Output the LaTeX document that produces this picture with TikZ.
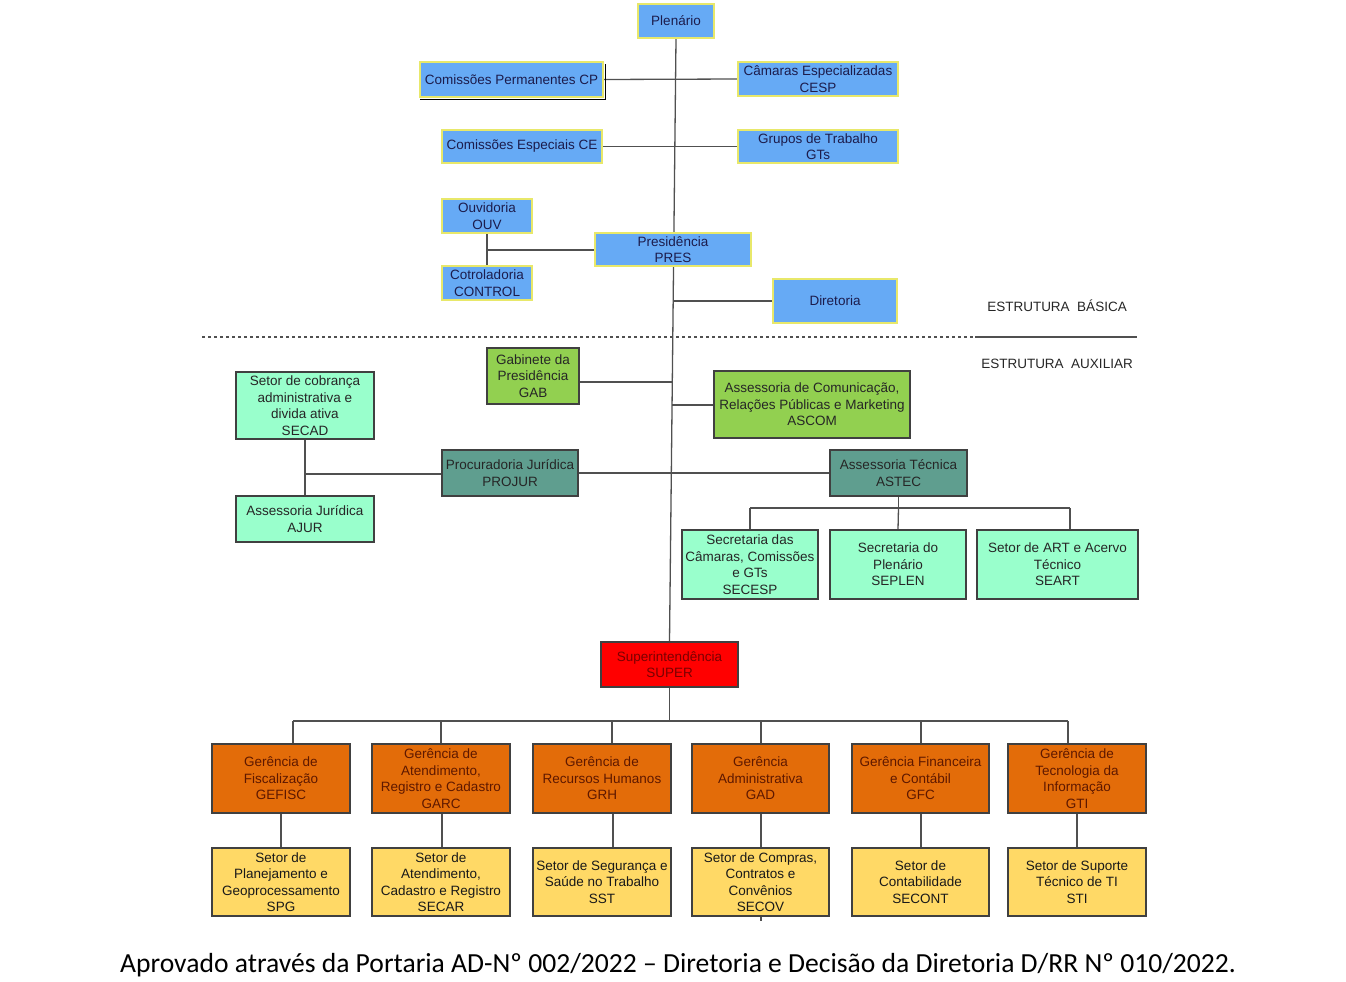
\documentclass[tikz,border=0pt]{standalone}
\usepackage{fontspec}
\setmainfont{Liberation Sans}
\newfontfamily\capfont{Carlito}
\usetikzlibrary{calc,backgrounds}
\definecolor{bluefill}{HTML}{66AAF5}
\definecolor{yelborder}{HTML}{E8E86A}
\definecolor{navytext}{HTML}{1C1C4C}
\definecolor{greenfill}{HTML}{92D050}
\definecolor{mintfill}{HTML}{99FFCC}
\definecolor{tealfill}{HTML}{5F9E8F}
\definecolor{orangefill}{HTML}{E36C09}
\definecolor{orangetext}{HTML}{5E1800}
\definecolor{lightorange}{HTML}{FFD966}
\definecolor{redtext}{HTML}{7A0000}
\definecolor{boxborder}{HTML}{404040}
\definecolor{linegray}{HTML}{505050}
\tikzset{
  x=1pt, y=-1pt,
  basebox/.style={rectangle, inner sep=0pt, align=center,
    font=\fontsize{13.5}{16.5}\selectfont},
  bluebox/.style={basebox, fill=bluefill, draw=yelborder, line width=1.3pt, text=navytext},
  greenbox/.style={basebox, fill=greenfill, draw=boxborder, line width=1.1pt, text=black!85},
  mintbox/.style={basebox, fill=mintfill, draw=boxborder, line width=1.1pt, text=black!85},
  tealbox/.style={basebox, fill=tealfill, draw=boxborder, line width=1.1pt, text=black!85},
  redbox/.style={basebox, fill=red, draw=boxborder, line width=1.1pt, text=redtext},
  gerbox/.style={basebox, fill=orangefill, draw=boxborder, line width=1.1pt, text=orangetext},
  setbox/.style={basebox, fill=lightorange, draw=boxborder, line width=1.1pt, text=black!90},
  conn/.style={draw=linegray, line width=1.3pt},
  sizebox/.style 2 args={minimum width=#1pt, minimum height=#2pt},
  estlabel/.style={font=\fontsize{13.5}{16}\selectfont, text=black!85, inner sep=0pt},
}
\begin{document}
\begin{tikzpicture}
\useasboundingbox (0,0) rectangle (1346,982);

% ---- Estrutura basica
\node[bluebox, sizebox={76}{34}] (plen) at (676,21) {Plenário};
\node[bluebox, sizebox={183}{35}] (cp) at (511.5,79.5) {Comissões Permanentes CP};
\node[bluebox, sizebox={160}{34}] (cesp) at (818,79) {Câmaras Especializadas\\CESP};
\node[bluebox, sizebox={160}{33}] (ce) at (522,146.5) {Comissões Especiais CE};
\node[bluebox, sizebox={160}{33}] (gts) at (818,146.5) {Grupos de Trabalho\\GTs};
\node[bluebox, sizebox={90}{34}] (ouv) at (487,216) {Ouvidoria\\OUV};
\node[bluebox, sizebox={90}{34}] (control) at (487,283) {Cotroladoria\\CONTROL};
\node[bluebox, sizebox={156}{33}] (pres) at (673,249.5) {Presidência\\PRES};
\node[bluebox, sizebox={124}{44}] (dir) at (835,301) {Diretoria};

\node[estlabel] (basica) at (1057,306) {ESTRUTURA\ \ BÁSICA};
\node[estlabel] (auxiliar) at (1057,364) {ESTRUTURA\ \ AUXILIAR};
\coordinate (dl) at (202,337);
\coordinate (dm) at (975,337);
\coordinate (dr) at (1137,337);
\draw[linegray, line width=1.1pt, dash pattern=on 3pt off 3pt] (dl) -- (dm);
\draw[linegray, line width=1.1pt] (dm) -- (dr);

% ---- Estrutura auxiliar
\node[greenbox, sizebox={92}{56}] (gab) at (533,376) {Gabinete da\\Presidência\\GAB};
\node[greenbox, sizebox={196}{67}] (ascom) at (812,404.5) {Assessoria de Comunicação,\\Relações Públicas e Marketing\\ASCOM};
\node[mintbox, sizebox={138}{67}] (secad) at (305,405.5) {Setor de cobrança\\administrativa e\\divida ativa\\SECAD};
\node[mintbox, sizebox={138}{46}] (ajur) at (305,519) {Assessoria Jurídica\\AJUR};
\node[tealbox, sizebox={136}{46}] (projur) at (510,473) {Procuradoria Jurídica\\PROJUR};
\node[tealbox, sizebox={137}{46}] (astec) at (898.5,473) {Assessoria Técnica\\ASTEC};
\node[mintbox, sizebox={136}{69}] (secesp) at (750,564.5) {Secretaria das\\Câmaras, Comissões\\e GTs\\SECESP};
\node[mintbox, sizebox={136}{69}] (seplen) at (898,564.5) {Secretaria do\\Plenário\\SEPLEN};
\node[mintbox, sizebox={161}{69}] (seart) at (1057.5,564.5) {Setor de ART e Acervo\\Técnico\\SEART};

\node[redbox, sizebox={137}{45}] (super) at (669.5,664.5) {Superintendência\\SUPER};

% ---- Gerencias
\node[gerbox, sizebox={138}{69}] (gefisc) at (281,778.5) {Gerência de\\Fiscalização\\GEFISC};
\node[gerbox, sizebox={138}{69}] (garc) at (441,778.5) {Gerência de\\Atendimento,\\Registro e Cadastro\\GARC};
\node[gerbox, sizebox={138}{69}] (grh) at (602,778.5) {Gerência de\\Recursos Humanos\\GRH};
\node[gerbox, sizebox={137}{69}] (gad) at (760.5,778.5) {Gerência\\Administrativa\\GAD};
\node[gerbox, sizebox={137}{69}] (gfc) at (920.5,778.5) {Gerência Financeira\\e Contábil\\GFC};
\node[gerbox, sizebox={138}{69}] (gti) at (1077,778.5) {Gerência de\\Tecnologia da\\Informação\\GTI};

\node[setbox, sizebox={138}{68}] (spg) at (281,882) {Setor de\\Planejamento e\\Geoprocessamento\\SPG};
\node[setbox, sizebox={138}{68}] (secar) at (441,882) {Setor de\\Atendimento,\\Cadastro e Registro\\SECAR};
\node[setbox, sizebox={138}{68}] (sst) at (602,882) {Setor de Segurança e\\Saúde no Trabalho\\SST};
\node[setbox, sizebox={137}{68}] (secov) at (760.5,882) {Setor de Compras,\\Contratos e\\Convênios\\SECOV};
\node[setbox, sizebox={137}{68}] (secont) at (920.5,882) {Setor de\\Contabilidade\\SECONT};
\node[setbox, sizebox={138}{68}] (sti) at (1077,882) {Setor de Suporte\\Técnico de TI\\STI};

\node[font=\capfont\fontsize{27.6}{32}\selectfont, inner sep=0pt] (caption) at (678,965)
  {Aprovado através da Portaria AD-Nº 002/2022 – Diretoria e Decisão da Diretoria D/RR Nº 010/2022.};

% ---- connectors (behind boxes)
\begin{pgfonlayer}{background}
  % main spine
  \draw[conn] (plen.south) -- (super.north);
  \coordinate (mgab) at ($(plen.south)!{(382-38)/604}!(super.north)$);
  \coordinate (mascom) at ($(plen.south)!{(405-38)/604}!(super.north)$);
  \coordinate (mdir) at ($(plen.south)!{(301-38)/604}!(super.north)$);
  \draw[conn] (cp.east) -- (cesp.west);
  \draw[conn] (ce.east) -- (gts.west);
  \draw[conn] (ouv.south) -- (control.north);
  \coordinate (ojoin) at (487,250);
  \draw[conn] (ojoin) -- (ojoin -| pres.west);
  \draw[conn] (mdir) -- (mdir -| dir.west);
  \draw[conn] (gab.east |- mgab) -- (mgab);
  \draw[conn] (mascom) -- (mascom -| ascom.west);
  % black outline of CP
  \draw[black, line width=1.1pt] ($(cp.north east)+(2,3)$) -- ($(cp.south east)+(2,2)$) -- ($(cp.south west)+(1,2)$);
  % juridica
  \draw[conn] (secad.south) -- (ajur.north);
  \coordinate (jjoin) at (305,474);
  \draw[conn] (jjoin) -- (jjoin -| projur.west);
  \draw[conn] (projur.east) -- (astec.west);
  % astec branches
  \coordinate (aL) at (750,508);
  \coordinate (aR) at (1070,508);
  \draw[conn] (astec.south) -- (astec.south |- aL);
  \draw[conn] (aL) -- (aR);
  \draw[conn] (aL) -- (aL |- secesp.north);
  \draw[conn] (astec.south |- aL) -- (seplen.north);
  \draw[conn] (aR) -- (aR |- seart.north);
  % superintendencia
  \coordinate (gL) at (293,721);
  \coordinate (gR) at (1068,721);
  \coordinate (g2) at (441,721);
  \coordinate (g3) at (612,721);
  \coordinate (g4) at (761,721);
  \coordinate (g5) at (921,721);
  \draw[conn] (super.south) -- (super.south |- gL);
  \draw[conn] (gL) -- (gR);
  \draw[conn] (gL) -- (gL |- gefisc.north);
  \draw[conn] (g2) -- (g2 |- garc.north);
  \draw[conn] (g3) -- (g3 |- grh.north);
  \draw[conn] (g4) -- (g4 |- gad.north);
  \draw[conn] (g5) -- (g5 |- gfc.north);
  \draw[conn] (gR) -- (gR |- gti.north);
  % gerencia -> setor
  \draw[conn] (gefisc.south) -- (spg.north);
  \coordinate (s2) at (442,813);
  \draw[conn] (s2) -- (s2 |- secar.north);
  \coordinate (s3) at (613,813);
  \draw[conn] (s3) -- (s3 |- sst.north);
  \coordinate (s4) at (761,813);
  \draw[conn] (s4) -- (s4 |- secov.north);
  \coordinate (s5) at (921,813);
  \draw[conn] (s5) -- (s5 |- secont.north);
  \draw[conn] (gti.south) -- (sti.north);
  \coordinate (stub) at (761,921);
  \draw[conn] (stub |- secov.south) -- (stub);
\end{pgfonlayer}
\end{tikzpicture}
\end{document}
